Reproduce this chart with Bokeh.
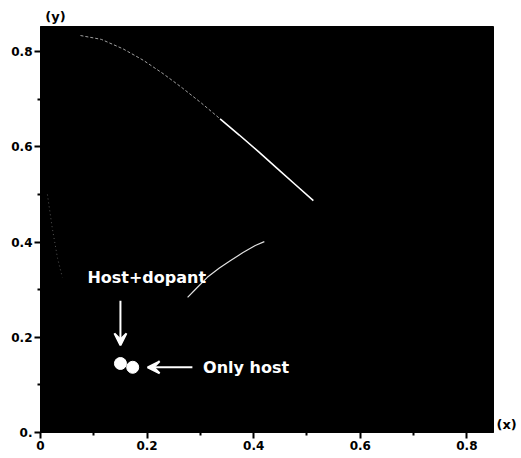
from bokeh.plotting import figure
from bokeh.models import Range1d, FixedTicker, Arrow, VeeHead, Label, LinearAxis
from bokeh.embed import file_html
from bokeh.resources import INLINE

# Spectral locus (upper, faint -> bright part)
locus_faint_x = [0.075, 0.114, 0.155, 0.193, 0.230, 0.266, 0.302, 0.337]
locus_faint_y = [0.834, 0.826, 0.806, 0.782, 0.754, 0.724, 0.692, 0.659]
locus_bright_x = [0.337, 0.373, 0.409, 0.444, 0.479, 0.512]
locus_bright_y = [0.659, 0.625, 0.590, 0.555, 0.520, 0.487]
# faint left piece of the locus
locus_left_x = [0.013, 0.022, 0.032, 0.041]
locus_left_y = [0.500, 0.430, 0.366, 0.326]
# Planckian-like curve
planck_x = [0.276, 0.290, 0.313, 0.335, 0.356, 0.380, 0.403, 0.420]
planck_y = [0.284, 0.300, 0.326, 0.345, 0.361, 0.378, 0.393, 0.401]
# CIE coordinates of the two samples
pts_x = [0.150, 0.173]
pts_y = [0.145, 0.137]
pts_name = ["Host+dopant", "Only host"]

x_ticks = [0.0, 0.2, 0.4, 0.6, 0.8]
x_tick_labels = ["0", "0.2", "0.4", "0.6", "0.8"]
x_minor = [0.1, 0.3, 0.5, 0.7]
y_ticks = [0.0, 0.2, 0.4, 0.6, 0.8]
y_tick_labels = ["0.", "0.2", "0.4", "0.6", "0.8"]
y_minor = [0.1, 0.3, 0.5, 0.7]
x_name = "(x)"
y_name = "(y)"

p = figure(width=521, height=456, output_backend="svg", toolbar_location=None,
           x_range=Range1d(0, 0.85), y_range=Range1d(0, 0.853),
           min_border_left=40, min_border_right=28, min_border_top=26,
           min_border_bottom=24)
p.background_fill_color = "black"
p.border_fill_color = "white"
p.outline_line_color = "black"
p.grid.visible = False


def style(ax, size="12px"):
    ax.axis_line_color = "black"
    ax.major_tick_line_color = "black"
    ax.minor_tick_line_color = "black"
    ax.major_tick_line_width = 2
    ax.minor_tick_line_width = 2
    ax.major_tick_out = 6
    ax.major_tick_in = 0
    ax.minor_tick_out = 3
    ax.minor_tick_in = 0
    ax.major_label_text_font = "DejaVu Sans"
    ax.major_label_text_font_style = "bold"
    ax.major_label_text_font_size = size
    ax.major_label_text_color = "black"
    ax.major_label_standoff = 2


for ax, t, lab, mn in ((p.xaxis[0], x_ticks, x_tick_labels, x_minor),
                       (p.yaxis[0], y_ticks, y_tick_labels, y_minor)):
    ax.ticker = FixedTicker(ticks=t, minor_ticks=mn)
    ax.major_label_overrides = {v: s for v, s in zip(t, lab)}
    style(ax)


def name_axis(ax):
    style(ax, "13px")
    ax.axis_line_color = None
    ax.major_tick_line_color = None
    ax.minor_tick_line_color = None
    ax.major_tick_out = 0
    ax.minor_tick_out = 0
    ax.major_label_standoff = 3


# axis names drawn as single-tick labels of extra axes
ax_top = LinearAxis(ticker=FixedTicker(ticks=[0.028]),
                    major_label_overrides={0.028: y_name})
name_axis(ax_top)
p.add_layout(ax_top, "above")

ax_right = LinearAxis(ticker=FixedTicker(ticks=[0.017]),
                      major_label_overrides={0.017: x_name})
name_axis(ax_right)
p.add_layout(ax_right, "right")

p.line(locus_left_x, locus_left_y, line_color="#555555", line_width=1, line_dash="1 3")
p.line(locus_faint_x, locus_faint_y, line_color="#a0a0a0", line_width=1, line_dash="3 2")
p.line(locus_bright_x, locus_bright_y, line_color="white", line_width=1.6)
p.line(planck_x, planck_y, line_color="#e0e0e0", line_width=1.2)

p.scatter(pts_x, pts_y, size=12, fill_color="white", line_color="white")

# annotations
p.add_layout(Arrow(x_start=pts_x[0], y_start=0.277, x_end=pts_x[0], y_end=0.183,
                   line_color="white", line_width=2,
                   end=VeeHead(size=12, line_color="white", fill_color="white", line_width=2)))
p.add_layout(Arrow(x_start=0.285, y_start=pts_y[1], x_end=0.201, y_end=pts_y[1],
                   line_color="white", line_width=2,
                   end=VeeHead(size=12, line_color="white", fill_color="white", line_width=2)))
p.add_layout(Label(x=0.088, y=0.326, text=pts_name[0], text_color="white",
                   text_font="DejaVu Sans", text_font_style="bold",
                   text_font_size="16px", text_baseline="middle"))
p.add_layout(Label(x=0.305, y=pts_y[1], text=pts_name[1], text_color="white",
                   text_font="DejaVu Sans", text_font_style="bold",
                   text_font_size="16px", text_baseline="middle"))

open("out.html", "w").write(file_html(p, INLINE))
